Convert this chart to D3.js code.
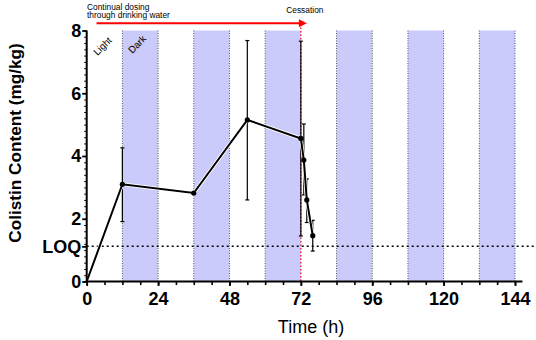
<!DOCTYPE html>
<html><head><meta charset="utf-8">
<script src="https://cdn.jsdelivr.net/npm/d3@7"></script>
<style>body{margin:0;background:#fff}svg{display:block}text{font-family:Arial,"Liberation Sans",sans-serif}</style>
</head><body><svg id="c" width="536" height="340"></svg>
<script>
const times = [0, 12, 36, 54, 72, 73, 74, 76];
const values = [0, 3.10, 2.82, 5.15, 4.56, 3.87, 2.60, 1.46];
const errLow = [null, 1.91, null, 2.60, 1.45, 2.76, 1.88, 0.97];
const errHigh = [null, 4.26, null, 7.68, 7.66, 5.02, 3.27, 1.95];
const darkStart = [12, 36, 60, 84, 108, 132];
const darkLength = 12;
const xTicks = [0, 24, 48, 72, 96, 120, 144];
const yTicks = [0, 2, 4, 6, 8];
const loq = 1.12;
const cessation = 72;
const yTitle = "Colistin Content (mg/kg)";
const xTitle = "Time (h)";

const svg = d3.select("#c");
const x = d3.scaleLinear().domain([0, 144]).range([86.7, 515]);
const y = d3.scaleLinear().domain([0, 8]).range([281.5, 30.5]);
const xEnd = 146.5;

// dark bands
const bands = svg.append("g");
darkStart.forEach(s => {
  bands.append("rect").attr("x", x(s)).attr("y", y(8)).attr("width", x(s+darkLength)-x(s))
    .attr("height", y(0)-y(8)).attr("fill", "#cbcbfb");
  [s, s+darkLength].forEach(e => {
    if (e === cessation) return;
    bands.append("line").attr("x1", x(e)).attr("x2", x(e)).attr("y1", y(8)).attr("y2", y(0))
      .attr("stroke", "#555").attr("stroke-width", 1).attr("stroke-dasharray", "1,1.5");
  });
});

// LOQ dotted line
svg.append("line").attr("x1", x(0)).attr("x2", 536).attr("y1", y(loq)).attr("y2", y(loq))
  .attr("stroke", "#000").attr("stroke-width", 1.5).attr("stroke-dasharray", "2,3");

// cessation red dotted line
svg.append("line").attr("x1", x(cessation)).attr("x2", x(cessation)).attr("y1", 24).attr("y2", y(0))
  .attr("stroke", "#e00").attr("stroke-width", 1.2).attr("stroke-dasharray", "1.5,2");

// red arrow
svg.append("line").attr("x1", x(3.3)).attr("x2", x(cessation)+1).attr("y1", 23.3).attr("y2", 23.3)
  .attr("stroke", "#f00").attr("stroke-width", 2);
svg.append("path").attr("d", d3.line()([[x(cessation)-2, 19.3],[x(cessation)+6, 23.3],[x(cessation)-2, 27.3]]) + "Z")
  .attr("fill", "#f00");

// annotations
const ann = svg.append("g").attr("font-size", 8.4).attr("fill", "#000");
ann.append("text").attr("x", 87).attr("y", 9.5).text("Continual dosing");
ann.append("text").attr("x", 87).attr("y", 18).text("through drinking water");
ann.append("text").attr("x", x(cessation)+4).attr("y", 13).attr("text-anchor", "middle").text("Cessation");
ann.append("text").attr("font-size", 9.8).attr("transform", `translate(${x(3.6)},56) rotate(-45)`).text("Light");
ann.append("text").attr("font-size", 9.8).attr("transform", `translate(${x(15.3)},54) rotate(-45)`).text("Dark");

// error bars
const eb = svg.append("g").attr("stroke", "#000").attr("stroke-width", 1.2);
times.forEach((t, i) => {
  if (errLow[i] == null) return;
  eb.append("line").attr("x1", x(t)).attr("x2", x(t)).attr("y1", y(errLow[i])).attr("y2", y(errHigh[i]));
  [errLow[i], errHigh[i]].forEach(v => eb.append("line").attr("x1", x(t)-2).attr("x2", x(t)+2).attr("y1", y(v)).attr("y2", y(v)));
});

// line + markers
const pts = times.map((t, i) => [x(t), y(values[i])]);
svg.append("path").attr("d", d3.line()(pts)).attr("fill", "none").attr("stroke", "#fff").attr("stroke-width", 3.6);
svg.append("path").attr("d", d3.line()(pts)).attr("fill", "none").attr("stroke", "#000").attr("stroke-width", 2);
svg.selectAll("circle.m").data(pts.slice(1)).join("circle").attr("cx", d => d[0]).attr("cy", d => d[1]).attr("r", 2.6).attr("fill", "#000");

// axes
const xAxisScale = d3.scaleLinear().domain([0, xEnd]).range([x(0), x(xEnd)]);
const gx = svg.append("g").attr("transform", `translate(0,${y(0)})`);
gx.call(d3.axisBottom(xAxisScale).tickValues(d3.range(0, 145, 6)).tickSize(3.5).tickFormat(""));
gx.call(g => g.selectAll(".tick line").attr("stroke-width", 1.6));
gx.select(".domain").remove();
gx.append("g").call(d3.axisBottom(x).tickValues(xTicks).tickSize(4.5).tickPadding(6).tickFormat(d3.format("d")))
  .call(g => { g.select(".domain").remove(); g.selectAll(".tick line").attr("stroke-width", 1.8);
    g.selectAll("text").attr("font-size", 18).attr("font-weight", "bold").attr("fill", "#000").attr("font-family", "Arial, 'Liberation Sans', sans-serif"); });
gx.append("line").attr("x1", x(0)-1).attr("x2", x(xEnd)).attr("stroke", "#000").attr("stroke-width", 2);

const gy = svg.append("g").attr("transform", `translate(${x(0)},0)`);
gy.call(d3.axisLeft(y).tickValues(d3.range(0, 8.01, 0.2)).tickSize(2.5).tickFormat(""));
gy.select(".domain").remove();
gy.selectAll(".tick line").attr("stroke-width", 1);
gy.append("g").call(d3.axisLeft(y).tickValues(yTicks.concat([loq])).tickSize(4.5).tickPadding(1)
    .tickFormat(d => d === loq ? "LOQ" : d3.format("d")(d)))
  .call(g => { g.select(".domain").remove(); g.selectAll(".tick line").attr("stroke-width", 1.8);
    g.selectAll("text").attr("font-size", 18).attr("font-weight", "bold").attr("fill", "#000").attr("font-family", "Arial, 'Liberation Sans', sans-serif"); });
gy.append("line").attr("y1", y(0)+1).attr("y2", y(8)).attr("stroke", "#000").attr("stroke-width", 2);

// titles
svg.append("text").attr("transform", `translate(21,143) rotate(-90)`).attr("text-anchor", "middle")
  .attr("font-size", 17.2).attr("font-weight", "bold").text(yTitle);
svg.append("text").attr("x", 311).attr("y", 333).attr("text-anchor", "middle").attr("font-size", 18).text(xTitle);
</script></body></html>
